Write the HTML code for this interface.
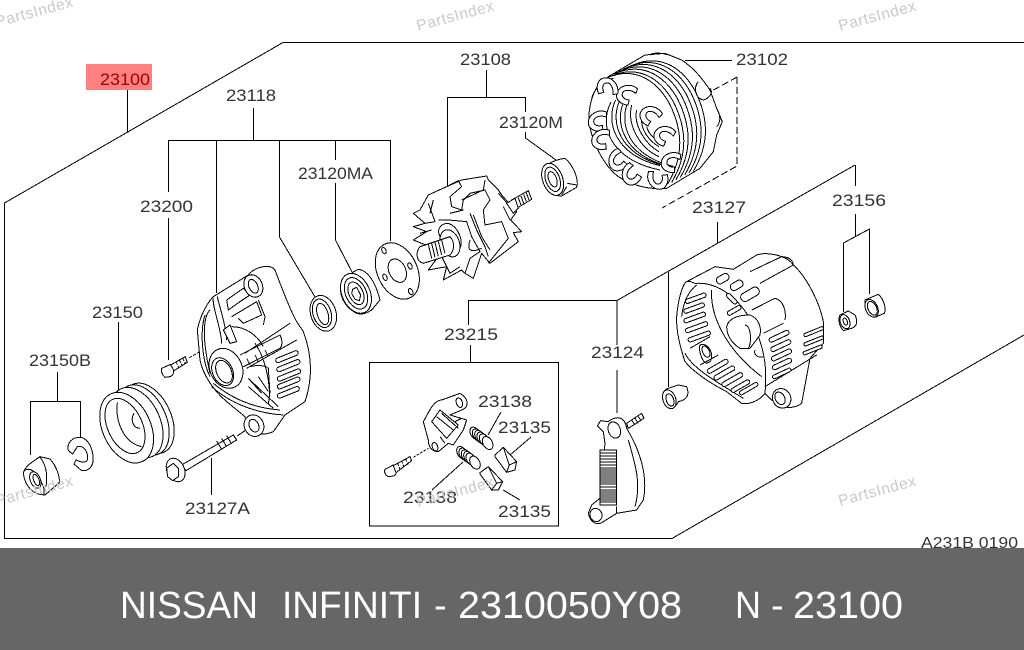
<!DOCTYPE html>
<html><head><meta charset="utf-8"><style>
html,body{margin:0;padding:0;background:#fff}
svg{display:block}
text{font-family:"Liberation Sans",sans-serif}
.l text{font-size:17px;fill:#333}
.w text{font-size:15.5px;fill:#c9c9c9;letter-spacing:.6px}
.b text{font-size:38px;fill:#fff}
.p{shape-rendering:crispEdges}
.p path,.p ellipse,.p rect{fill:#fff;stroke:#000;stroke-width:3;stroke-linejoin:round}
.p .n{fill:none}
.c{shape-rendering:crispEdges}
</style></head><body>
<svg width="1024" height="650" viewBox="0 0 1024 650" xmlns="http://www.w3.org/2000/svg">
<rect width="1024" height="650" fill="#fff"/>
<rect x="86" y="64" width="66" height="26" fill="#ff8080"/>
<g class="c" fill="none" stroke="#000" stroke-width="1">
<path d="M1024,42.5H283L4.5,203V538.5H672L1024,335"/>
<path d="M127.5,90V132"/>
<path d="M253.5,108V140.5M168.5,192V140.5H390.5V241M216.5,140.5V293M279.5,140.5V237L315,297M335.5,140.5V160M335.5,183V240L352,272M168.5,218V360"/>
<path d="M486.5,70V97.5M447.5,186V97.5H525.5V112M525.5,132V138L556,160"/>
<path d="M685,60.5H732"/>
<path d="M737,77L710,92M737,77V166L662,208" stroke-dasharray="7 3"/>
<path d="M717.5,222V243M855,165L617,300.5H468.5V325M617,300.5V345M617,370V413M668.5,272V387"/>
<path d="M855.5,165V186M855.5,214V236M843.5,312V243L869.5,229V294"/>
<path d="M118.5,322V390M57.5,372V401.5M30.5,455V401.5H80.5V437"/>
<path d="M211.5,458V495"/>
<rect x="369.5" y="362.5" width="189" height="163.5"/>
<path d="M470.5,345V362M501,412L488,435M531,437L510,455M463,462L432,490M503,490L520,500"/>
</g>

<g class="p">
<defs>
<path id="h" d="M26,-24C0,-34 -28,-16 -28,8C-28,28 -6,38 16,32L14,16C2,20 -12,16 -12,4C-12,-8 6,-16 26,-9Z"/>
</defs>
<!-- left group: zoom1 coords -->
<g transform="translate(0,260) scale(.3333)">
<ellipse cx="445" cy="475" rx="68" ry="112" transform="rotate(-25 445 475)"/>
<ellipse cx="430" cy="480" rx="68" ry="112" transform="rotate(-25 430 480)"/>
<ellipse cx="410" cy="488" rx="70" ry="112" transform="rotate(-25 410 488)"/>
<ellipse cx="380" cy="503" rx="72" ry="112" transform="rotate(-25 380 503)"/>
<ellipse cx="375" cy="498" rx="52" ry="88" transform="rotate(-25 375 498)"/>
<path class="n" d="M352,428C345,490 375,550 425,560M402,460C390,480 400,505 420,505"/>
<path d="M70,640C75,620 90,610 120,590L150,597C170,620 180,650 178,668L135,705C100,705 75,680 70,640Z"/>
<path class="n" d="M70,635C90,615 115,640 130,680 135,695 132,705 130,705M120,592C135,610 145,640 138,680"/>
<ellipse cx="106" cy="660" rx="15" ry="26" transform="rotate(-22 106 660)"/>
<ellipse cx="109" cy="660" rx="8" ry="18" transform="rotate(-22 109 660)"/>
<path d="M245,532C215,530 200,550 205,572L218,582L232,560C255,555 265,580 262,600C255,612 240,605 228,600L222,612L245,632C272,635 285,610 278,580 272,552 262,540 245,532Z"/>
<!-- screw 23200 -->
<path d="M485,325L512,313C525,330 523,345 510,350L495,352C487,345 483,335 485,325Z"/>
<path d="M512,315L556,290L562,307L522,332Z"/>
<path class="n" d="M528,306L536,322M538,300L546,316M548,295L556,310M568,293L605,272" stroke-dasharray="9 4"/>
<!-- bolt 23127A -->
<path d="M545,615L700,525L710,540L558,632Z"/>
<ellipse cx="527" cy="630" rx="26" ry="37" transform="rotate(-25 527 630)"/>
<path d="M500,625L520,610 535,625 535,650 518,662 503,650Z"/>
<path class="n" d="M650,543L665,568M665,535L680,560M680,527L695,552M712,528L735,512"/>
</g>

<!-- front frame: fine zoom coords -->
<g transform="translate(190,260) scale(.3333)">
<path d="M22,210C30,170 50,130 70,110L175,45C195,20 240,10 255,30C270,70 300,150 320,185L340,215C365,280 370,350 345,425L285,465L250,515C215,530 175,525 165,470L110,425C75,395 40,350 30,300Z"/>
<path class="n" d="M70,115C65,135 95,210 95,250M82,110C85,130 110,200 110,240M60,150C40,170 35,230 60,340M45,165C30,210 35,300 60,350M65,380C120,430 200,460 280,465M70,370C130,420 200,445 270,450M180,360L265,440M175,380L250,445M195,250C230,300 245,390 235,430M110,120L160,85 180,105 150,125 115,150 110,120M125,170L200,125 215,165 160,190 145,175M205,120L225,170 220,195M125,200C170,200 205,230 220,260M165,280L300,190M170,325L320,240M150,285L270,225C280,245 275,260 270,265L160,320M180,320C200,315 225,315 235,325L240,400M175,355L215,400M205,350L235,395M170,295L180,315M195,285L205,305M225,270L235,290"/>
<path d="M100,210L120,195L140,245L120,250Z"/>
<ellipse cx="108" cy="325" rx="48" ry="62" transform="rotate(-25 108 325)"/>
<ellipse cx="98" cy="335" rx="30" ry="44" transform="rotate(-25 98 335)"/>
<ellipse cx="102" cy="335" rx="22" ry="36" transform="rotate(-25 102 335)"/>
<rect x="255" y="283" width="72" height="14" rx="7" transform="rotate(-22 291 290)"/>
<rect x="258" y="310" width="74" height="14" rx="7" transform="rotate(-22 295 317)"/>
<rect x="260" y="338" width="74" height="14" rx="7" transform="rotate(-22 297 345)"/>
<rect x="260" y="362" width="72" height="14" rx="7" transform="rotate(-22 296 369)"/>
<rect x="260" y="390" width="70" height="14" rx="7" transform="rotate(-22 295 397)"/>
<ellipse cx="190" cy="78" rx="27" ry="35" transform="rotate(-25 190 78)"/>
<ellipse cx="190" cy="79" rx="13" ry="22" transform="rotate(-25 190 79)"/>
<ellipse cx="192" cy="497" rx="29" ry="33" transform="rotate(-25 192 497)"/>
<ellipse cx="192" cy="497" rx="14" ry="20" transform="rotate(-25 192 497)"/>
</g>

<!-- seal, bearing: fine zoom coords -->
<g transform="translate(300,230) scale(.3333)">
<ellipse cx="70" cy="250" rx="38" ry="55" transform="rotate(-18 70 250)"/>
<ellipse cx="66" cy="250" rx="27" ry="44" transform="rotate(-18 66 250)"/>
<ellipse cx="68" cy="252" rx="16" ry="33" transform="rotate(-18 68 252)"/>
<path d="M122,175C125,150 150,130 175,118C200,120 225,150 240,210L215,240C200,250 185,255 170,250C140,235 120,205 122,175Z"/>
<ellipse cx="168" cy="190" rx="42" ry="63" transform="rotate(-25 168 190)"/>
<ellipse cx="168" cy="190" rx="31" ry="50" transform="rotate(-25 168 190)"/>
<ellipse cx="168" cy="190" rx="21" ry="36" transform="rotate(-25 168 190)"/>
<path d="M158,178L170,172 182,195 178,212 165,208 155,190Z"/>
</g>

<!-- zoom2 coords -->
<g transform="translate(370,40) scale(.3333)">
<!-- bearing -->
<path d="M515,400C520,375 550,360 585,355C610,375 628,420 620,442L575,468C545,470 520,440 515,400Z"/>
<ellipse cx="548" cy="418" rx="30" ry="50" transform="rotate(-20 548 418)"/>
<ellipse cx="548" cy="418" rx="21" ry="38" transform="rotate(-20 548 418)"/>
<ellipse cx="548" cy="418" rx="12" ry="24" transform="rotate(-20 548 418)"/>
<path class="n" d="M590,440L575,465M592,430L620,435"/>
<!-- rotor -->
<path d="M130,520L150,510L175,465L230,440L275,420L350,408L355,420L385,450L395,465L440,515L422,540L455,575L430,578L445,605L360,670L335,640L310,715L285,700L275,690L220,720L230,680L175,690L205,650L180,620L130,600L170,575L130,560L165,550Z"/>
<path class="n" d="M175,490L195,545L165,550M190,480L180,520M230,440L265,422L275,440 240,470 245,500 275,510 280,480 300,460 345,450 360,480 340,510 345,555 395,545 415,595 355,670M275,480L340,450 345,420M240,520L280,510M300,520L320,570 345,620 355,650M310,525L335,590 360,630M400,500L420,540M385,460L430,510M205,540L235,540 290,545 305,590 330,635 300,655 285,700M150,580L185,570M215,650L240,700 270,680M220,600C195,580 205,550 235,550 265,560 280,600 270,625M300,600C290,630 300,640 335,625"/>
<path d="M425,480L475,452 485,478 440,505Z"/>
<path class="n" d="M445,473L453,495M453,468L461,490M461,463L469,485M469,458L477,480"/>
<path d="M410,490L435,475 445,505 430,520Z"/>
<ellipse cx="240" cy="610" rx="28" ry="42" transform="rotate(-20 240 610)"/>
<path d="M150,620L240,590C258,610 250,635 240,645L160,670C140,665 135,640 150,620Z"/>
<path class="n" d="M175,613L185,655M185,610L195,652M195,607L205,649M205,604L215,645M215,600L225,640"/>
<!-- thrust plate -->
<ellipse cx="82" cy="693" rx="60" ry="89" transform="rotate(-25 82 693)"/>
<ellipse cx="82" cy="692" rx="25" ry="37" transform="rotate(-25 82 692)"/>
<ellipse cx="42" cy="632" rx="6" ry="10" transform="rotate(-25 42 632)"/>
<ellipse cx="120" cy="678" rx="6" ry="10" transform="rotate(-25 120 678)"/>
<ellipse cx="45" cy="712" rx="6" ry="10" transform="rotate(-25 45 712)"/>
<ellipse cx="122" cy="755" rx="6" ry="10" transform="rotate(-25 122 755)"/>
</g>

<!-- stator: fine zoom coords -->
<g transform="translate(585,45) scale(.3333)">
<path d="M12,230C10,190 20,150 40,120L70,95L180,30L240,25L290,45C320,65 345,90 375,135L395,190L412,230L395,270L385,320L345,370L245,430C190,435 140,420 100,395C55,360 20,290 12,230Z"/>
<path id="s1" class="n" d="M75,95C150,60 220,90 265,170C300,240 315,320 260,412"/>
<use href="#s1" transform="translate(13,-8)"/><use href="#s1" transform="translate(26,-15)"/><use href="#s1" transform="translate(39,-22)"/><use href="#s1" transform="translate(52,-28)"/><use href="#s1" transform="translate(65,-33)"/><use href="#s1" transform="translate(-12,5)"/>
<path id="s2" class="n" d="M92,165C60,230 90,330 225,362"/>
<use href="#s2" transform="translate(13,0)"/><use href="#s2" transform="translate(26,2)"/><use href="#s2" transform="translate(39,2)"/>
<path class="n" d="M140,180C125,240 165,310 222,335M155,195C145,245 185,300 222,320M170,215C165,255 195,290 222,305M185,245C190,265 205,280 220,288M78,172C40,240 75,345 225,375M340,110C325,125 330,160 355,165 375,160 385,140 375,130M395,190C410,215 405,235 395,245M195,30C210,20 235,25 250,30M20,160C30,125 60,105 85,100"/>
<!-- hooks -->
<use href="#h" transform="translate(125,145) rotate(20)"/>
<use href="#h" transform="translate(197,208) rotate(40)"/>
<use href="#h" transform="translate(238,268) rotate(30)"/>
<use href="#h" transform="translate(258,348) rotate(10)"/>
<use href="#h" transform="translate(70,125) rotate(80)"/>
<use href="#h" transform="translate(38,225)"/>
<use href="#h" transform="translate(48,280)"/>
<use href="#h" transform="translate(95,345) rotate(-40)"/>
<use href="#h" transform="translate(135,388) rotate(-50)"/>
<use href="#h" transform="translate(215,405) rotate(-90)"/>
</g>

<!-- zoom4 coords -->
<g transform="translate(650,240) scale(.3333)">
<path d="M80,230C85,170 100,130 110,125L195,80L250,88L320,45C350,35 410,45 430,75C470,110 510,190 520,245L520,310L480,355L455,490C430,510 390,505 365,480L345,460C330,480 300,495 275,490L230,455C180,430 130,395 105,365C90,320 78,270 80,230Z"/>
<path class="n" d="M110,125C125,120 135,135 140,130C215,125 300,195 335,320 355,390 345,450 345,460M95,230C100,180 120,150 140,135M105,340C125,380 180,415 280,475M185,150C180,230 230,330 335,410M300,95L395,50C425,50 430,70 430,75L330,130M305,210L375,175C400,180 410,215 405,240M340,280L400,250M345,440L500,345M120,325L180,290M150,375L205,345M150,315C175,305 195,345 180,365L170,370C155,365 145,330 150,315Z"/>
<ellipse cx="168" cy="335" rx="10" ry="18" transform="rotate(-25 168 335)"/>
<path d="M230,260C235,235 265,225 300,225 325,235 335,260 330,285L300,325 270,325C245,310 230,285 230,260Z"/>
<path class="n" d="M285,255C305,260 305,310 295,325M315,330C310,345 325,355 340,350"/>
<g>
<rect x="105" y="168" width="65" height="13" rx="6" transform="rotate(-20 138 175)"/>
<rect x="100" y="198" width="65" height="13" rx="6" transform="rotate(-20 132 205)"/>
<rect x="100" y="226" width="68" height="13" rx="6" transform="rotate(-20 134 232)"/>
<rect x="105" y="255" width="70" height="13" rx="6" transform="rotate(-20 140 262)"/>
<rect x="113" y="283" width="70" height="13" rx="6" transform="rotate(-20 148 290)"/>
<rect x="198" y="105" width="40" height="22" rx="10" transform="rotate(-30 218 116)"/>
<rect x="240" y="125" width="40" height="22" rx="10" transform="rotate(-30 260 136)"/>
<rect x="270" y="150" width="60" height="26" rx="12" transform="rotate(-30 300 163)"/>
<rect x="225" y="170" width="40" height="12" rx="6" transform="rotate(45 245 176)"/>
<rect x="230" y="205" width="45" height="13" rx="6" transform="rotate(-30 252 211)"/>
<rect x="168" y="372" width="70" height="14" rx="7" transform="rotate(-30 203 379)"/>
<rect x="188" y="392" width="70" height="14" rx="7" transform="rotate(-30 223 399)"/>
<rect x="212" y="412" width="70" height="14" rx="7" transform="rotate(-30 247 419)"/>
<rect x="240" y="432" width="62" height="13" rx="6" transform="rotate(-30 271 438)"/>
<rect x="265" y="440" width="62" height="12" rx="6" transform="rotate(-30 296 446)"/>
<rect x="355" y="282" width="65" height="14" rx="7" transform="rotate(-25 387 289)"/>
<rect x="360" y="310" width="65" height="14" rx="7" transform="rotate(-25 392 317)"/>
<rect x="362" y="338" width="65" height="14" rx="7" transform="rotate(-25 394 345)"/>
<rect x="365" y="365" width="62" height="14" rx="7" transform="rotate(-25 396 372)"/>
<rect x="365" y="395" width="60" height="11" rx="5" transform="rotate(-25 395 400)"/>
<rect x="460" y="270" width="62" height="10" rx="4" transform="rotate(-22 491 275)"/>
<rect x="460" y="298" width="62" height="10" rx="4" transform="rotate(-22 491 303)"/>
<rect x="458" y="325" width="60" height="10" rx="4" transform="rotate(-22 488 330)"/>
</g>
<ellipse cx="395" cy="475" rx="27" ry="30" transform="rotate(-30 395 475)"/>
<ellipse cx="390" cy="475" rx="14" ry="20" transform="rotate(-30 390 475)"/>
<!-- bushing -->
<path d="M55,445L85,435 110,440C120,465 110,480 85,485 80,500 60,510 45,495 30,465 40,450 55,445Z"/>
<ellipse cx="58" cy="478" rx="19" ry="29" transform="rotate(-20 58 478)"/>
<ellipse cx="60" cy="480" rx="11" ry="19" transform="rotate(-20 60 480)"/>
<!-- nut 23156 -->
<path d="M570,225L595,213 615,225C625,245 620,260 605,265L580,272C565,255 565,235 570,225Z"/>
<ellipse cx="585" cy="245" rx="14" ry="22" transform="rotate(-20 585 245)"/>
<ellipse cx="586" cy="245" rx="6" ry="11" transform="rotate(-20 586 245)"/>
<!-- ring -->
<path d="M645,180L685,163C700,175 710,205 703,220L675,232C660,225 645,200 645,180Z"/>
<ellipse cx="665" cy="205" rx="18" ry="28" transform="rotate(-25 665 205)"/>
<ellipse cx="667" cy="205" rx="13" ry="22" transform="rotate(-25 667 205)"/>
</g>

<!-- zoom3 coords -->
<g transform="translate(360,350) scale(.3333)">
<path d="M190,215C205,190 220,150 245,150L300,130C325,145 330,170 305,180L270,195L320,210L310,240L280,285L265,280L235,305C215,305 205,290 205,270Z"/>
<ellipse cx="298" cy="158" rx="9" ry="15" transform="rotate(-20 298 158)"/>
<ellipse cx="225" cy="290" rx="8" ry="13" transform="rotate(-20 225 290)"/>
<path class="n" d="M215,215L240,180 295,225 260,265ZM230,200L280,240M245,190L295,235M240,260L255,280M285,215L305,205"/>
<path d="M75,358L100,345C112,355 112,375 100,378L85,380C75,375 72,365 75,358Z"/>
<path d="M100,347L150,320 155,332 108,368Z"/>
<path class="n" d="M113,340L120,358M125,333L132,352M137,327L144,345M160,322L205,295" stroke-dasharray="8 4"/>
<g><ellipse cx="345" cy="250" rx="13" ry="20" transform="rotate(-30 345 250)"/><ellipse cx="352" cy="255" rx="13" ry="20" transform="rotate(-30 352 255)"/><ellipse cx="359" cy="260" rx="13" ry="20" transform="rotate(-30 359 260)"/><ellipse cx="366" cy="265" rx="13" ry="20" transform="rotate(-30 366 265)"/><ellipse cx="373" cy="270" rx="13" ry="20" transform="rotate(-30 373 270)"/><ellipse cx="383" cy="279" rx="14" ry="21" transform="rotate(-30 383 279)"/></g>
<g><ellipse cx="305" cy="308" rx="13" ry="20" transform="rotate(-30 305 308)"/><ellipse cx="312" cy="313" rx="13" ry="20" transform="rotate(-30 312 313)"/><ellipse cx="319" cy="318" rx="13" ry="20" transform="rotate(-30 319 318)"/><ellipse cx="326" cy="323" rx="13" ry="20" transform="rotate(-30 326 323)"/><ellipse cx="333" cy="328" rx="13" ry="20" transform="rotate(-30 333 328)"/><ellipse cx="345" cy="338" rx="14" ry="21" transform="rotate(-30 345 338)"/></g>
<path d="M405,315L430,292L470,335L465,360L440,367L405,320Z"/>
<path class="n" d="M430,292L448,345 440,367M448,345L470,335"/>
<path d="M360,368L385,350L428,395L415,420L395,420L360,372Z"/>
<path class="n" d="M385,350L410,400 395,420M410,400L428,395"/>
<!-- bracket 23124 -->
<path d="M800,220L845,190 852,205 805,235Z"/>
<path class="n" d="M815,210L825,225M825,205L835,220M835,200L843,212"/>
<path d="M712,228L722,212L745,215C770,195 795,200 800,235C840,300 865,380 850,450L830,480L770,490L730,515C710,530 690,515 685,490L695,465L720,445L735,280L730,245Z"/>
<path class="n" d="M805,270C825,340 845,400 825,470M770,470L770,490"/>
<ellipse cx="763" cy="240" rx="18" ry="25" transform="rotate(-20 763 240)"/>
<ellipse cx="708" cy="495" rx="18" ry="20" transform="rotate(-20 708 495)"/>
<path d="M720,300H770V465H720Z"/>
<path class="n" d="M722,309H770M722,318H770M722,327H770M722,336H770M722,345H770M722,354H770M722,360H770M722,366H770M722,372H770M722,378H770M722,384H770M722,390H770M722,396H770M722,402H770M722,411H770M722,420H770M722,426H770M722,432H770M722,438H770M722,444H770M722,450H770M722,456H770"/>
</g>
</g>

<g class="l">
<text x="100" y="85" style="fill:#a00000" textLength="50" lengthAdjust="spacingAndGlyphs">23100</text>
<text x="226" y="101" textLength="50" lengthAdjust="spacingAndGlyphs">23118</text>
<text x="460" y="65" textLength="51" lengthAdjust="spacingAndGlyphs">23108</text>
<text x="736" y="65" textLength="52" lengthAdjust="spacingAndGlyphs">23102</text>
<text x="499" y="128" textLength="64" lengthAdjust="spacingAndGlyphs">23120M</text>
<text x="298" y="179" textLength="75" lengthAdjust="spacingAndGlyphs">23120MA</text>
<text x="140" y="212" textLength="53" lengthAdjust="spacingAndGlyphs">23200</text>
<text x="692" y="213" textLength="54" lengthAdjust="spacingAndGlyphs">23127</text>
<text x="832" y="206" textLength="54" lengthAdjust="spacingAndGlyphs">23156</text>
<text x="92" y="318" textLength="51" lengthAdjust="spacingAndGlyphs">23150</text>
<text x="29" y="366" textLength="62" lengthAdjust="spacingAndGlyphs">23150B</text>
<text x="444" y="340" textLength="54" lengthAdjust="spacingAndGlyphs">23215</text>
<text x="591" y="358" textLength="53" lengthAdjust="spacingAndGlyphs">23124</text>
<text x="478" y="407" textLength="54" lengthAdjust="spacingAndGlyphs">23138</text>
<text x="498" y="433" textLength="53" lengthAdjust="spacingAndGlyphs">23135</text>
<text x="403" y="503" textLength="54" lengthAdjust="spacingAndGlyphs">23138</text>
<text x="498" y="517" textLength="53" lengthAdjust="spacingAndGlyphs">23135</text>
<text x="185" y="514" textLength="65" lengthAdjust="spacingAndGlyphs">23127A</text>
<text x="921" y="548" style="font-size:15.5px" textLength="97" lengthAdjust="spacingAndGlyphs">A231B 0190</text>
</g>

<g class="w">
<text transform="translate(-3,27) rotate(-15)">PartsIndex</text>
<text transform="translate(418,31) rotate(-15)">PartsIndex</text>
<text transform="translate(840,31) rotate(-15)">PartsIndex</text>
<text transform="translate(-3,506) rotate(-15)">PartsIndex</text>
<text transform="translate(418,507) rotate(-15)">PartsIndex</text>
<text transform="translate(840,506) rotate(-15)">PartsIndex</text>
</g>

<rect y="548" width="1024" height="102" fill="#666"/>
<g class="b">
<text x="120" y="618" textLength="138" lengthAdjust="spacingAndGlyphs">NISSAN</text>
<text x="282" y="618" textLength="140" lengthAdjust="spacingAndGlyphs">INFINITI</text>
<text x="434" y="618">-</text>
<text x="458" y="618" textLength="224" lengthAdjust="spacingAndGlyphs">2310050Y08</text>
<text x="735" y="618" textLength="26" lengthAdjust="spacingAndGlyphs">N</text>
<text x="771" y="618">-</text>
<text x="793" y="618" textLength="110" lengthAdjust="spacingAndGlyphs">23100</text>
</g>
</svg>
</body></html>
